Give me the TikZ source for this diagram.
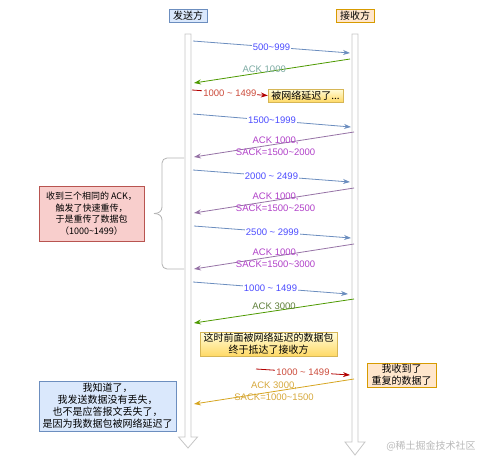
\documentclass[tikz,border=0pt]{standalone}
\usepackage{fontspec}
\setmainfont{Liberation Sans}
\newfontfamily\cjk{Noto Sans CJK SC}
\usepackage{xcolor}
\usepackage{tikz}
\usetikzlibrary{arrows.meta}

\definecolor{lineblue}{HTML}{6C8EBF}
\definecolor{txtblue}{HTML}{4C4CFF}
\definecolor{linegreen}{HTML}{4D9900}
\definecolor{txtteal}{HTML}{7BAAA2}
\definecolor{txtolive}{HTML}{5F7F3A}
\definecolor{linered}{HTML}{B20000}
\definecolor{txtred}{HTML}{CC4C3C}
\definecolor{linepurple}{HTML}{9673A6}
\definecolor{txtpurple}{HTML}{B040C8}
\definecolor{linegold}{HTML}{D6A520}
\definecolor{txtgold}{HTML}{D6A83C}
\definecolor{fillblue}{HTML}{DAE8FC}
\definecolor{fillorange}{HTML}{FFE6CC}
\definecolor{edgeorange}{HTML}{D79B00}
\definecolor{fillpink}{HTML}{F8CECC}
\definecolor{edgepink}{HTML}{B85450}
\definecolor{edgeyellow}{HTML}{D6B656}

\begin{document}
\begin{tikzpicture}[x=1pt, y=-1pt,
  msg/.style={line width=0.8pt, -{Stealth[length=7pt, width=5pt]}},
  lbl/.style={font=\fontsize{9.5}{12}\selectfont, inner sep=1pt, align=center},
  cut/.style={lbl, fill=white},
  box/.style={draw, font=\cjk\fontsize{10}{12}\selectfont, align=center, inner sep=0pt, minimum height=13pt},
  note/.style={box, top color=fillorange!40!yellow!20, bottom color={rgb,255:red,255;green,217;blue,102}, draw=edgeyellow},
  lifeline/.style={draw=gray!45, fill=white, line width=0.8pt}]
\useasboundingbox (0,0) rectangle (490,464);

% the two sides
\node[box, fill=fillblue, draw=lineblue, minimum width=38pt] (sender) at (188,15.5) {发送方};
\node[box, fill=fillorange, draw=edgeorange, minimum width=38pt] (receiver) at (355,15.5) {接收方};
\draw[lifeline] (185,34) -- (185,437) -- (178.5,437) -- (188,448) -- (197.5,437) -- (191,437) -- (191,34) -- cycle;
\draw[lifeline] (352,34) -- (352,442) -- (345,442) -- (355,455) -- (365,442) -- (358,442) -- (358,34) -- cycle;

% ends of the messages
\coordinate (s1) at (193,41);   \coordinate (r1) at (350,53);
\coordinate (r2) at (350,59);   \coordinate (s2) at (194,83);
\coordinate (s3) at (192,90);
\coordinate (s4) at (193,114);  \coordinate (r4) at (351,127);
\coordinate (r5) at (354,132);  \coordinate (s5) at (194,157);
\coordinate (s6) at (193,170);  \coordinate (r6) at (350,182);
\coordinate (r7) at (354,188);  \coordinate (s7) at (194,213);
\coordinate (s8) at (194,226);  \coordinate (r8) at (351,238);
\coordinate (r9) at (354,244);  \coordinate (s9) at (194,269);
\coordinate (s10) at (193,282); \coordinate (r10) at (348,294);
\coordinate (r11) at (354,299); \coordinate (s11) at (194,323);
\coordinate (s12) at (256,369); \coordinate (r12) at (350,375);
\coordinate (r13) at (354,379); \coordinate (s13) at (194,404);

\node[note, minimum width=75pt] (delay) at (305.5,95.5) {被网络延迟了...};
\node[note, minimum width=137pt, minimum height=24pt] (arrive) at (268.5,344) {这时前面被网络延迟的数据包\\终于抵达了接收方};
\node[box, fill=fillorange, draw=edgeorange, minimum width=69pt, minimum height=24pt] (dup) at (401.5,375) {我收到了\\重复的数据了};

\draw[msg, lineblue] (s1) -- node[cut, text=txtblue] {500\textasciitilde999} (r1);
\draw[msg, linegreen] (r2) -- node[lbl, text=txtteal, pos=0.55, yshift=3pt] {ACK 1000} (s2);
\draw[msg, linered] (s3) -- node[cut, text=txtred] {1000 \textasciitilde{} 1499} (delay.west);
\draw[msg, lineblue] (s4) -- node[cut, text=txtblue] {1500\textasciitilde1999} (r4);
\draw[msg, linepurple] (r5) -- node[lbl, text=txtpurple, pos=0.49, yshift=-1.5pt] {ACK 1000,\\SACK=1500\textasciitilde2000} (s5);
\draw[msg, lineblue] (s6) -- node[cut, text=txtblue] {2000 \textasciitilde{} 2499} (r6);
\draw[msg, linepurple] (r7) -- node[lbl, text=txtpurple, pos=0.49, yshift=-1.5pt] {ACK 1000,\\SACK=1500\textasciitilde2500} (s7);
\draw[msg, lineblue] (s8) -- node[cut, text=txtblue] {2500 \textasciitilde{} 2999} (r8);
\draw[msg, linepurple] (r9) -- node[lbl, text=txtpurple, pos=0.49, yshift=-1.5pt] {ACK 1000,\\SACK=1500\textasciitilde3000} (s9);
\draw[msg, lineblue] (s10) -- node[cut, text=txtblue] {1000 \textasciitilde{} 1499} (r10);
\draw[msg, linegreen] (r11) -- node[lbl, text=txtolive, pos=0.5, yshift=5pt] {ACK 3000} (s11);
\draw[msg, linered] (s12) -- node[cut, text=txtred] {1000 \textasciitilde{} 1499} (r12);
\draw[msg, linegold] (r13) -- node[lbl, text=txtgold, pos=0.5] {ACK 3000,\\SACK=1000\textasciitilde1500} (s13);

% fast retransmit note with its brace
\draw[gray!60, line width=0.8pt, rounded corners=5pt] (184,158) -- (162,158) -- (162,207);
\draw[gray!60, line width=0.8pt] (162,207) .. controls (162,211) and (159,213.5) .. (154,213.5);
\draw[gray!60, line width=0.8pt] (154,213.5) .. controls (159,213.5) and (162,216) .. (162,220);
\draw[gray!60, line width=0.8pt, rounded corners=5pt] (162,220) -- (162,269) -- (184,269);
\node[box, fill=fillpink, draw=edgepink, minimum width=105pt, minimum height=55pt,
  font=\cjk\fontsize{9}{11.7}\selectfont] (fast) at (91.5,213.5) {收到三个相同的 ACK，\\触发了快速重传，\\于是重传了数据包\\（1000\textasciitilde1499）};

\node[box, fill=fillblue, draw=lineblue, minimum width=137pt, minimum height=50pt] (know) at (107.5,406)
  {我知道了，\\我发送数据没有丢失，\\也不是应答报文丢失了，\\是因为我数据包被网络延迟了};

\node[font=\cjk\fontsize{10}{12}\selectfont, text=gray!55] (mark) at (431,446) {@稀土掘金技术社区};
\end{tikzpicture}
\end{document}
